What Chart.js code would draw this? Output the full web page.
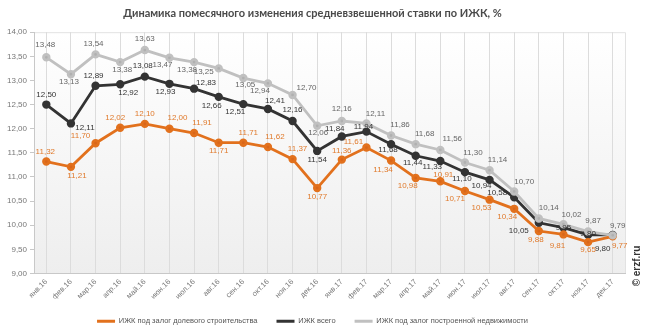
<!DOCTYPE html>
<html>
<head>
<meta charset="utf-8">
<script src="https://cdn.jsdelivr.net/npm/chart.js@4"></script>
<style>
  html, body { margin: 0; padding: 0; background: #fff; }
  #wrap { width: 653px; height: 327px; }
</style>
</head>
<body>
<div id="wrap"><canvas id="graphic" width="653" height="327"></canvas></div>
<script>
const months = ['янв.16', 'фев.16', 'мар.16', 'апр.16', 'май.16', 'июн.16', 'июл.16', 'авг.16', 'сен.16', 'окт.16', 'ноя.16', 'дек.16',
  'янв.17', 'фев.17', 'мар.17', 'апр.17', 'май.17', 'июн.17', 'июл.17', 'авг.17', 'сен.17', 'окт.17', 'ноя.17', 'дек.17']
const dolevoe = [11.32, 11.21, 11.70, 12.02, 12.10, 12.00, 11.91, 11.71, 11.71, 11.62, 11.37, 10.77,
  11.36, 11.61, 11.34, 10.98, 10.91, 10.71, 10.53, 10.34, 9.88, 9.81, 9.65, 9.77]
const vsego = [12.50, 12.11, 12.89, 12.92, 13.08, 12.93, 12.83, 12.66, 12.51, 12.41, 12.16, 11.54,
  11.84, 11.94, 11.68, 11.44, 11.33, 11.10, 10.94, 10.58, 10.05, 9.95, 9.80, 9.80]
const postroennoe = [13.48, 13.13, 13.54, 13.38, 13.63, 13.47, 13.38, 13.25, 13.05, 12.94, 12.70, 12.06,
  12.16, 12.11, 11.86, 11.68, 11.56, 11.30, 11.14, 10.70, 10.14, 10.02, 9.87, 9.79]
const yTicks = [9, 9.5, 10, 10.5, 11, 11.5, 12, 12.5, 13, 13.5, 14]

// сдвиг подписей значений относительно точки [dx, dy]
const shiftDolevoe = [[-1,-10],[6,9],[-15,-7],[-5,-10],[0,-10],[8,-11],[8,-10],[0,8],[5,-10],[7,-10],[5,-10],[0,9],
  [0,-9],[-13,-6],[-8,9],[-8,8],[3,-7],[-10,8],[-8,8],[-7,8],[-3,9],[-6,11],[0,8],[7,9]]
const shiftVsego = [[0,-10],[14,4],[-2,-10],[8,8],[-2,-11],[-4,8],[12,-6],[-7,9],[-8,8],[7,-8],[0,-11],[0,9],
  [-7,-8],[-3,-5],[-3,6],[-3,7],[-8,6],[-3,7],[-8,6],[-17,-4],[-20,8],[0,0],[0,-1],[-10,14]]
const shiftPostr = [[-1,-12],[-2,8],[-2,-11],[2,8],[0,-11],[-7,7],[-7,8],[-15,3],[2,7],[-8,7],[14,-7],[1,7],
  [0,-12],[9,-10],[9,-11],[9,-10],[12,-11],[8,-10],[8,-10],[10,-10],[10,-11],[8,-9],[5,-11],[5,-10]]

const fmt = (v) => v.toFixed(2).replace('.', ',')
const font = '"Liberation Sans", Arial, sans-serif'

const fonPlugin = {
  id: 'fon',
  beforeDraw(chart) {
    const {ctx, chartArea: a} = chart
    const g = ctx.createLinearGradient(0, a.top, 0, a.bottom)
    g.addColorStop(0, '#ffffff')
    g.addColorStop(1, '#eeeeee')
    ctx.save()
    ctx.fillStyle = g
    ctx.fillRect(a.left, a.top, a.right - a.left, a.bottom - a.top)
    ctx.strokeStyle = '#e2e2e2'
    ctx.lineWidth = 1
    ctx.beginPath()
    ctx.moveTo(a.left, a.top + 0.5)
    ctx.lineTo(a.right + 0.5, a.top + 0.5)
    ctx.lineTo(a.right + 0.5, a.bottom)
    ctx.stroke()
    ctx.restore()
  },
  afterDraw(chart) {
    const ctx = chart.ctx
    ctx.save()
    ctx.translate(637, 266)
    ctx.rotate(-Math.PI / 2)
    ctx.font = 'bold 10px ' + font
    ctx.fillStyle = '#333'
    ctx.textAlign = 'center'
    ctx.textBaseline = 'middle'
    ctx.fillText('© erzf.ru', 0, 0)
    ctx.restore()
  }
}

const podpisiPlugin = {
  id: 'podpisi',
  afterDatasetsDraw(chart) {
    const ctx = chart.ctx
    const shifts = [shiftDolevoe, shiftVsego, shiftPostr]
    ctx.save()
    ctx.font = '8px ' + font
    ctx.textAlign = 'center'
    ctx.textBaseline = 'middle'
    chart.data.datasets.forEach((ds, di) => {
      const meta = chart.getDatasetMeta(di)
      ctx.fillStyle = ds.labelColor
      meta.data.forEach((pt, i) => {
        ctx.fillText(fmt(ds.data[i]), pt.x + shifts[di][i][0], pt.y + shifts[di][i][1])
      })
    })
    ctx.restore()
  }
}

const config = {
  type: 'line',
  data: {
    labels: months,
    datasets: [
      {
        label: 'ИЖК под залог долевого строительства',
        data: dolevoe,
        borderColor: '#e2711d',
        backgroundColor: '#e2711d',
        pointBackgroundColor: '#d9661a',
        borderWidth: 2.8,
        labelColor: '#e07a2c',
        order: 1
      },
      {
        label: 'ИЖК всего',
        data: vsego,
        borderColor: '#333333',
        backgroundColor: '#333333',
        pointBackgroundColor: '#333333',
        borderWidth: 2.8,
        labelColor: '#333333',
        order: 2
      },
      {
        label: 'ИЖК под залог построенной недвижимости',
        data: postroennoe,
        borderColor: '#c0c0c0',
        backgroundColor: '#c0c0c0',
        pointBackgroundColor: '#b0b0b0',
        borderWidth: 2.8,
        labelColor: '#666666',
        order: 0
      }
    ]
  },
  options: {
    responsive: false,
    animation: false,
    devicePixelRatio: 1,
    layout: { padding: { left: 0, right: 28, top: 0, bottom: -8 } },
    elements: {
      line: { tension: 0 },
      point: { radius: 2.8, borderWidth: 0, hoverRadius: 2.8 }
    },
    scales: {
      x: {
        offset: true,
        grid: { offset: false, color: '#dcdcdc', drawTicks: false },
        border: { color: '#c8c8c8' },
        ticks: {
          autoSkip: false, maxRotation: 45, minRotation: 45, padding: 4,
          color: '#777', font: { family: font, size: 7.5 }
        },
        afterFit: (s) => { s.height = 25 }
      },
      y: {
        min: 9, max: 14,
        afterBuildTicks: (s) => { s.ticks = yTicks.map(v => ({ value: v })) },
        grid: { drawOnChartArea: false, tickLength: 4, color: '#c8c8c8' },
        border: { color: '#c8c8c8' },
        ticks: {
          padding: 3, color: '#777', font: { family: font, size: 8 },
          callback: (v) => fmt(v)
        },
        afterFit: (s) => { s.width = 34 }
      }
    },
    plugins: {
      title: {
        display: true,
        text: 'Динамика помесячного изменения средневзвешенной ставки по ИЖК, %',
        color: '#4a4a4a',
        font: { family: 'Lato', size: 11, weight: 'bold' },
        padding: { top: 7, bottom: 12 }
      },
      legend: {
        position: 'bottom',
        labels: {
          usePointStyle: true,
          pointStyle: 'line',
          pointStyleWidth: 18,
          boxHeight: 3,
          padding: 19,
          color: '#555',
          font: { family: font, size: 7.5 },
          sort: (a, b) => a.datasetIndex - b.datasetIndex
        }
      },
      tooltip: { enabled: false }
    }
  },
  plugins: [fonPlugin, podpisiPlugin]
}

new Chart(document.getElementById('graphic'), config)
</script>
</body>
</html>
